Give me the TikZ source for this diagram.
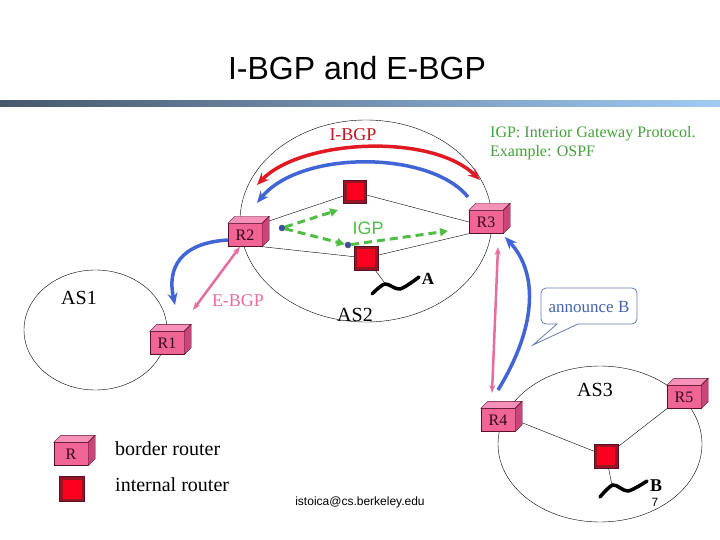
\documentclass[tikz,border=0pt]{standalone}
\usepackage{fontspec}
\setmainfont{Liberation Serif}
\newfontfamily\arialfont{Liberation Sans}
\usetikzlibrary{arrows.meta,backgrounds}

\definecolor{brfront}{RGB}{240,100,150}
\definecolor{brtop}{RGB}{246,145,185}
\definecolor{brside}{RGB}{200,70,120}
\definecolor{brline}{RGB}{90,15,40}
\definecolor{irdark}{RGB}{150,20,35}
\definecolor{irred}{RGB}{250,0,30}
\definecolor{ibgpred}{RGB}{225,25,35}
\definecolor{ibgpblue}{RGB}{65,100,215}
\definecolor{igpgreen}{RGB}{80,190,70}
\definecolor{ebgppink}{RGB}{228,110,160}
\definecolor{annblue}{RGB}{70,100,170}
\definecolor{barleft}{RGB}{70,88,108}
\definecolor{barright}{RGB}{160,202,245}

\tikzset{
  brouter/.style={rectangle, draw=brline, fill=brfront, minimum width=34pt,
    minimum height=23pt, inner sep=0pt, text=brline!60!black,
    font=\fontsize{16}{16}\selectfont},
  irouter/.style={rectangle, draw=brline, fill=irdark, minimum size=24pt,
    inner sep=0pt, path picture={\fill[irred]
      ([shift={(3pt,3pt)}]path picture bounding box.south west) rectangle
      ([shift={(-3pt,-3pt)}]path picture bounding box.north east);}},
  lbl/.style={inner sep=0pt, font=\fontsize{20}{24}\selectfont},
  fat/.style={line width=3.5pt, -{Stealth[length=12pt,width=10pt]}},
  thinpink/.style={ebgppink, line width=2.5pt,
    {Stealth[length=8pt,width=6pt]}-{Stealth[length=8pt,width=6pt]}},
  igpdash/.style={igpgreen, line width=3pt, dash pattern=on 8pt off 5pt,
    -{Triangle[length=8pt,width=8pt]}},
  wiggle/.style={line width=3.5pt, line cap=round},
}

\begin{document}
\begin{tikzpicture}[x=1pt,y=-1pt]
\useasboundingbox (0,0) rectangle (720,540);

% Title and bar
\node[font=\arialfont\fontsize{32}{38}\selectfont] (title) at (357,68) {I-BGP and E-BGP};
\shade[left color=barleft, right color=barright] (0,101) rectangle (720,107);

% Routers
\node[brouter] (R1) at (167,343) {R1};
\node[brouter] (R2) at (245,235) {R2};
\node[brouter] (R3) at (486,222) {R3};
\node[brouter] (R4) at (498,420) {R4};
\node[brouter] (R5) at (684,397) {R5};
\node[irouter, minimum size=23pt] (i1) at (355,192) {};
\node[irouter] (i2) at (366,258) {};
\node[irouter] (i3) at (606,456) {};

% 3D faces of the border routers
\foreach \r in {R1,R2,R3,R4,R5}{
  \filldraw[fill=brtop, draw=brline] (\r.north west) -- ++(7pt,7pt)
    -- ([shift={(7pt,7pt)}]\r.north east) -- (\r.north east) -- cycle;
  \filldraw[fill=brside, draw=brline] (\r.north east) -- ++(7pt,7pt)
    -- ([shift={(7pt,7pt)}]\r.south east) -- (\r.south east) -- cycle;
}

% Domains and links
\begin{scope}[on background layer]
  \fill[white] (0,0) rectangle (720,540);
  \draw (366,221) ellipse [x radius=126, y radius=101];
  \draw (95.5,330) ellipse [x radius=71.5, y radius=60];
  \draw (600,444) ellipse [x radius=102, y radius=78];
  \draw (R2.north east) -- (i1);
  \draw (R2.south east) -- (i2);
  \draw (i1) -- (R3.west);
  \draw (i2) -- (R3.south west);
  \draw (R4.east) -- (i3);
  \draw (R5.south west) -- (i3);
  \draw (i2) -- (384,282);
  \draw (i3) -- (612,485);
\end{scope}

% Networks A and B
\draw[wiggle] plot[smooth] coordinates {(372,294) (385,284) (400,289) (419,277)};
\node[inner sep=0pt, font=\fontsize{17}{17}\selectfont\bfseries] (netA) at (428,279) {A};
\draw[wiggle] plot[smooth] coordinates {(600,497) (613,485) (628,491) (647,481)};
\node[inner sep=0pt, font=\fontsize{18}{18}\selectfont\bfseries] (netB) at (656,486) {B};

% Labels
\node[lbl] (as1) at (79,298) {AS1};
\node[lbl] (as2) at (355,315) {AS2};
\node[lbl] (as3) at (595,390) {AS3};
\node[inner sep=0pt, text=ibgpred!85!black, font=\fontsize{18}{18}\selectfont] (ibgp) at (353,135) {I-BGP};
\node[inner sep=0pt, text=igpgreen, font=\arialfont\fontsize{18}{18}\selectfont] (igp) at (368,228) {IGP};
\node[inner sep=0pt, text=ebgppink, font=\fontsize{18}{18}\selectfont] (ebgp) at (238,301) {E-BGP};
\node[inner sep=0pt, anchor=west, align=left, text=igpgreen!85!black,
  font=\fontsize{16}{19}\selectfont] (igpnote) at (490,143)
  {IGP: Interior Gateway Protocol.\\Example: OSPF};

% I-BGP session
\coordinate (ibL) at (257,185);
\coordinate (ibR) at (480,180);
\draw[ibgpred, line width=3.5pt, {Stealth[length=12pt,width=10pt]}-{Stealth[length=12pt,width=10pt]}]
  (ibL) .. controls (300,140) and (430,132) .. (ibR);
\coordinate (bbR) at (468,197);
\coordinate (bbL) at (257,203);
\draw[fat, ibgpblue] (bbR) .. controls (430,150) and (300,150) .. (bbL);

% IGP paths
\node[circle, fill=ibgpblue!80!black, draw=black!70, inner sep=0pt, minimum size=6pt] (d1) at (282,228) {};
\node[circle, fill=ibgpblue!80!black, draw=black!70, inner sep=0pt, minimum size=6pt] (d2) at (348,245) {};
\draw[igpdash] (d1) -- (338,210);
\draw[igpdash] (d1) -- (d2);
\draw[igpdash] (d2) -- (448,231);

% E-BGP sessions
\coordinate (eR1) at (193,310);
\draw[thinpink] ([xshift=-5pt]R2.south) -- (eR1);
\coordinate (bR1) at (175,305);
\draw[fat, ibgpblue] ([yshift=-5pt]R2.west) .. controls (180,243) and (167,268) .. (bR1);
\coordinate (eR3) at (498,247);
\coordinate (eR4) at (492,393);
\draw[thinpink] (eR3) -- (eR4);
\coordinate (bR4) at (498,390);
\coordinate (bR3) at (505,237);
\draw[fat, ibgpblue] (bR4) .. controls (535,330) and (540,275) .. (bR3);

% Callout
\draw[annblue!85!white, line width=0.8pt] (557,324) [rounded corners=5pt] -- (541,324) -- (541,288)
  -- (637,288) -- (637,324) [sharp corners] -- (578,324) -- (533,345) -- cycle;
\node[inner sep=0pt, text=annblue, font=\fontsize{17}{17}\selectfont] (ann) at (589,307) {announce B};

% Legend
\node[brouter] (Rleg) at (71,454) {R};
\filldraw[fill=brtop, draw=brline] (Rleg.north west) -- ++(7pt,7pt)
  -- ([shift={(7pt,7pt)}]Rleg.north east) -- (Rleg.north east) -- cycle;
\filldraw[fill=brside, draw=brline] (Rleg.north east) -- ++(7pt,7pt)
  -- ([shift={(7pt,7pt)}]Rleg.south east) -- (Rleg.south east) -- cycle;
\node[irouter, minimum size=25pt] (ileg) at (72,489) {};
\node[lbl, anchor=west] (legb) at (115,449) {border router};
\node[lbl, anchor=west] (legi) at (115,485) {internal router};

% Footer
\node[inner sep=0pt, font=\arialfont\fontsize{12}{12}\selectfont] (mail) at (360,502) {istoica@cs.berkeley.edu};
\node[inner sep=0pt, font=\arialfont\fontsize{12}{12}\selectfont] (page) at (655,502) {7};
\end{tikzpicture}
\end{document}
